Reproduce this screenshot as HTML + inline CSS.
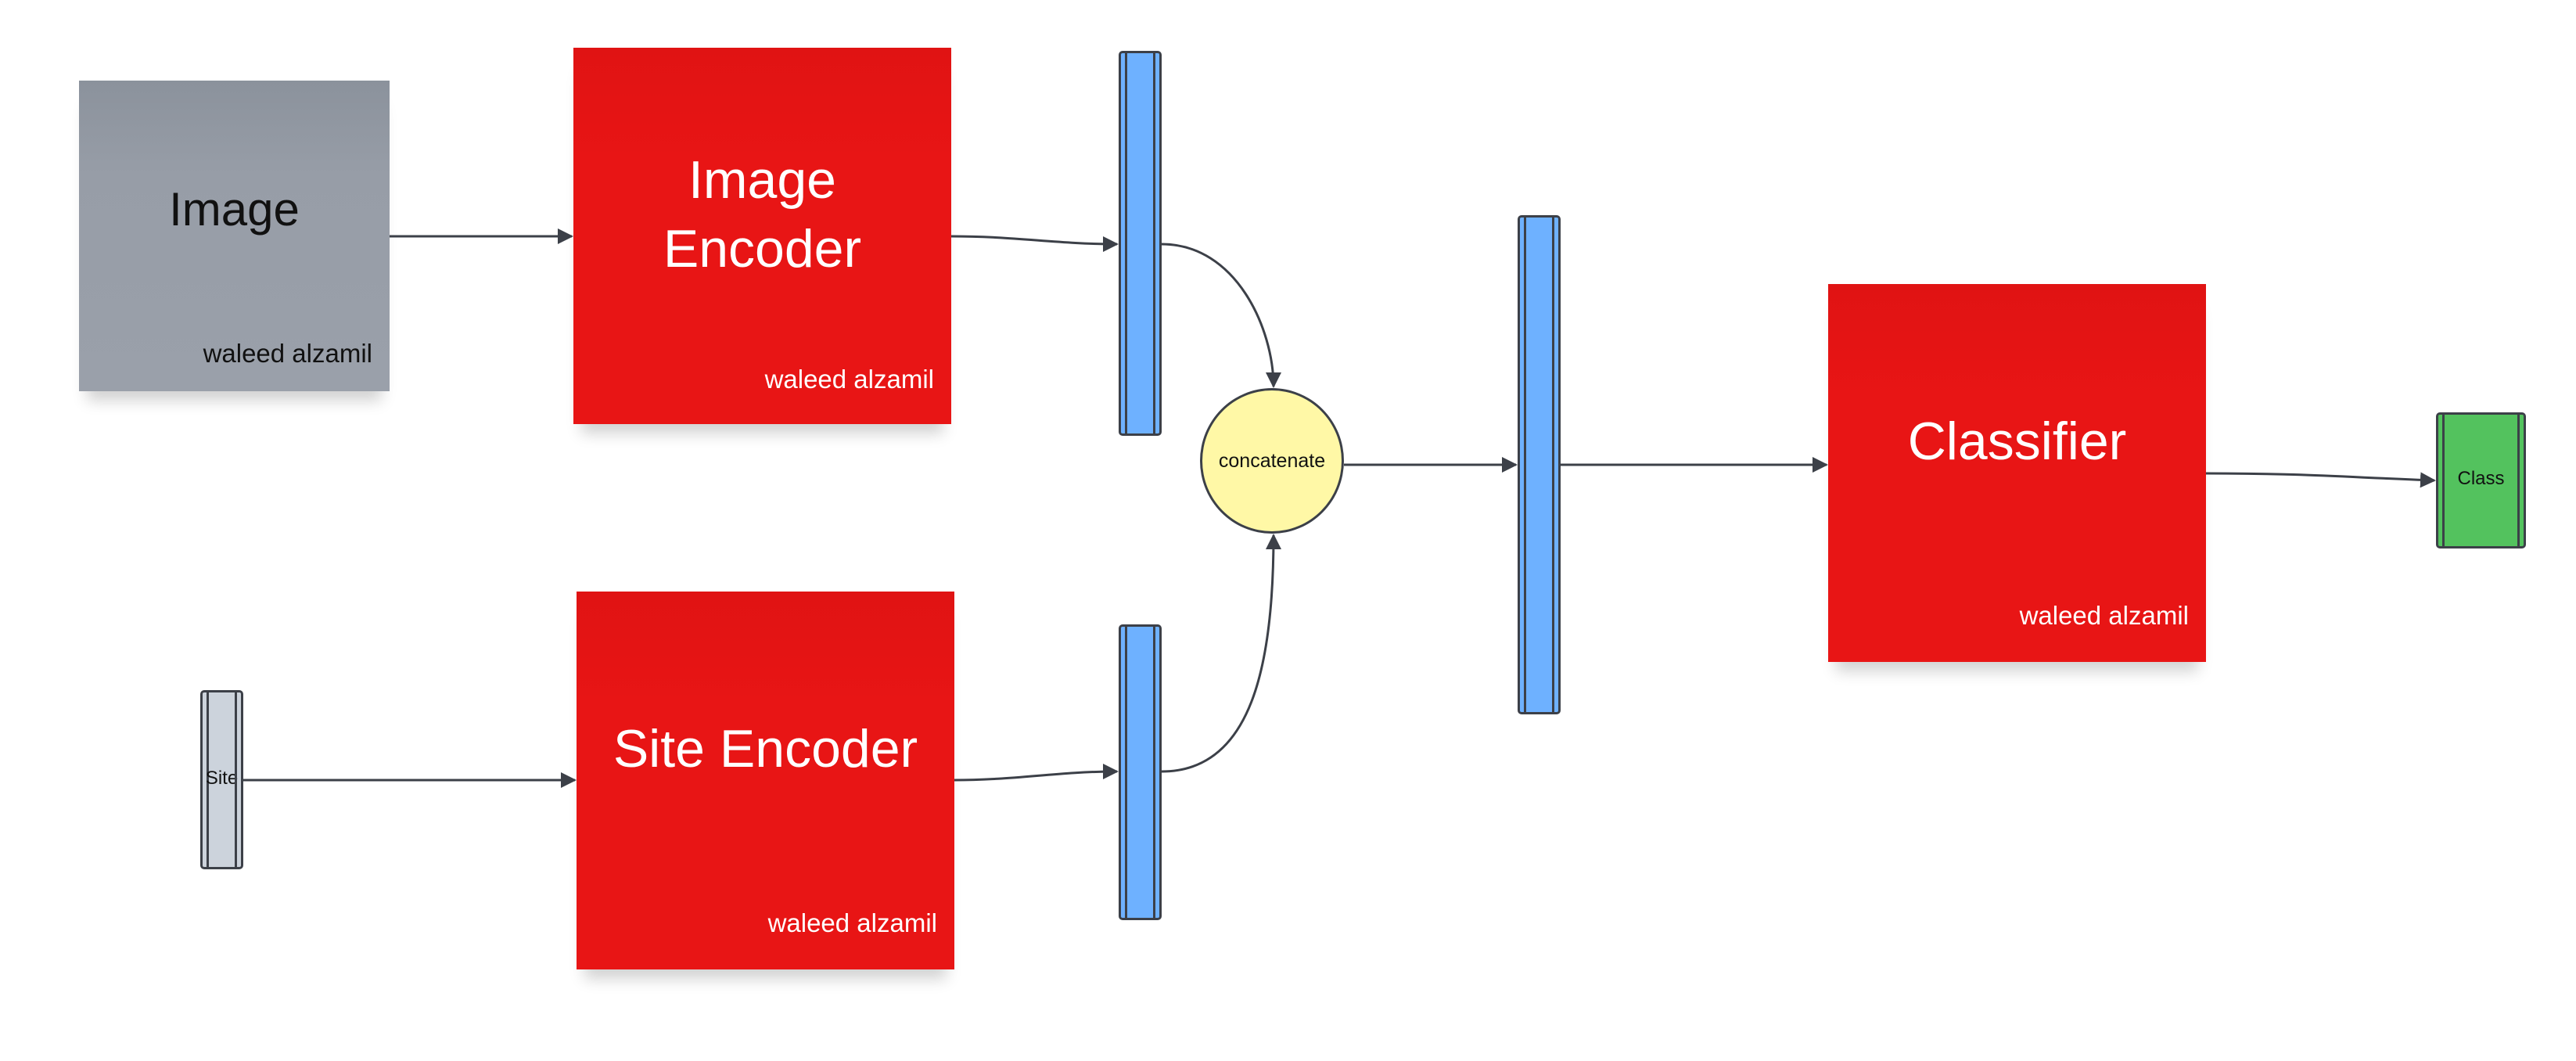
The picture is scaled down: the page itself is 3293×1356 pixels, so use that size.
<!DOCTYPE html>
<html><head><meta charset="utf-8"><style>
body{margin:0;width:3293px;height:1356px;background:#fff;position:relative;overflow:hidden;font-family:"Liberation Sans",sans-serif}
.b{position:absolute;box-shadow:0 22px 18px -10px rgba(0,0,0,0.18)}
.red{background:linear-gradient(#e01313,#e81515 30%,#e81515);color:#fff}
.t{position:absolute;left:0;right:0;text-align:center}
.w{position:absolute;right:22px;font-size:33px}
.bar{position:absolute;box-sizing:border-box;border:3px solid #3c4048;border-radius:5px;background:#6eb1ff}
.bar:before,.bar:after{content:"";position:absolute;top:0;bottom:0;width:3px;background:#3c4048}
.bar:before{left:5px}.bar:after{right:5px}
</style></head><body>
<div class="b" style="left:101px;top:103px;width:397px;height:397px;background:linear-gradient(#8b929c,#979da7 30%,#9aa0aa)">
<div class="t" style="top:130px;font-size:60px;color:#111">Image</div>
<div class="w" style="top:330px;color:#111">waleed alzamil</div></div>
<div class="b red" style="left:733px;top:61px;width:483px;height:481px">
<div class="t" style="top:125px;font-size:68px;line-height:88px">Image<br>Encoder</div>
<div class="w" style="top:405px">waleed alzamil</div></div>
<div class="b red" style="left:737px;top:756px;width:483px;height:483px">
<div class="t" style="top:162px;font-size:68px">Site Encoder</div>
<div class="w" style="top:405px">waleed alzamil</div></div>
<div class="b red" style="left:2337px;top:363px;width:483px;height:483px">
<div class="t" style="top:162px;font-size:68px">Classifier</div>
<div class="w" style="top:405px">waleed alzamil</div></div>
<div class="bar" style="left:1430px;top:65px;width:55px;height:492px"></div>
<div class="bar" style="left:1430px;top:798px;width:55px;height:378px"></div>
<div class="bar" style="left:1940px;top:275px;width:55px;height:638px"></div>
<div class="bar" style="left:256px;top:882px;width:55px;height:229px;background:#ccd3dc"><div style="position:absolute;left:-3px;right:-3px;top:96px;text-align:center;font-size:24px;color:#111">Site</div></div>
<div class="bar" style="left:3114px;top:527px;width:115px;height:174px;background:#53c25e"><div style="position:absolute;left:0;right:0;top:68px;text-align:center;font-size:24px;color:#111">Class</div></div>
<div style="position:absolute;left:1534px;top:496px;width:184px;height:186px;box-sizing:border-box;border:3px solid #3c4048;border-radius:50%;background:#fff8a6;font-size:25px;text-align:center;line-height:180px;color:#111">concatenate</div>
<svg width="3293" height="1356" style="position:absolute;left:0;top:0" fill="none" stroke="#3c4048" stroke-width="3">
<defs><marker id="a" markerWidth="10" markerHeight="10" refX="9" refY="5" orient="auto" markerUnits="userSpaceOnUse" viewBox="0 0 10 10"><path d="M0,0L10,5L0,10z" fill="#3c4048" stroke="none" transform="scale(1)"/></marker>
<marker id="m" markerWidth="20" markerHeight="20" refX="18" refY="10" orient="auto" markerUnits="userSpaceOnUse"><path d="M0,0L20,10L0,20z" fill="#3c4048" stroke="none"/></marker></defs>
<path d="M498,302H731" marker-end="url(#m)"/>
<path d="M1216,302C1300,302 1350,312 1428,312" marker-end="url(#m)"/>
<path d="M1485,312C1580,312 1628,420 1628,494" marker-end="url(#m)"/>
<path d="M1485,986C1600,986 1628,850 1628,684" marker-end="url(#m)"/>
<path d="M311,997H735" marker-end="url(#m)"/>
<path d="M1220,997C1300,997 1350,986 1428,986" marker-end="url(#m)"/>
<path d="M1718,594H1938" marker-end="url(#m)"/>
<path d="M1995,594H2335" marker-end="url(#m)"/>
<path d="M2820,605C2950,605 3000,610 3112,614" marker-end="url(#m)"/>
</svg>
</body></html>
